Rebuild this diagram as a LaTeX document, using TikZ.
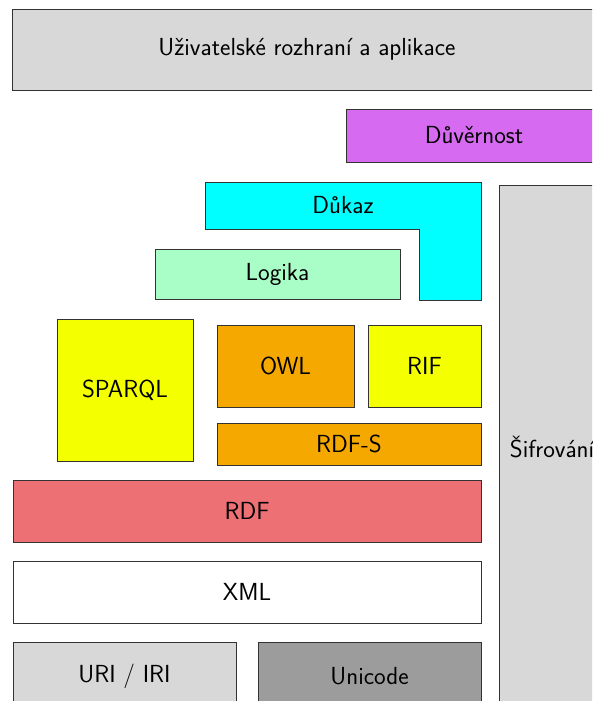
\documentclass[tikz,border=0pt]{standalone}
\definecolor{cgray}{HTML}{D8D8D8}
\definecolor{cviolet}{HTML}{D66BF2}
\definecolor{ccyan}{HTML}{00FFFF}
\definecolor{cgreen}{HTML}{A9FDC6}
\definecolor{cyellow}{HTML}{F4FF00}
\definecolor{corange}{HTML}{F5A800}
\definecolor{cred}{HTML}{EC7074}
\definecolor{cdark}{HTML}{9C9C9C}
\definecolor{cline}{HTML}{333333}
\tikzset{
  layer/.style={draw=cline, line width=0.9pt, inner sep=0pt, rectangle,
    font=\sffamily\fontsize{24.7}{29}\selectfont, text=black},
  lbl/.style={inner sep=0pt, font=\sffamily\fontsize{24.7}{29}\selectfont, text=black}
}
\begin{document}
\begin{tikzpicture}[x=1pt,y=-1pt]
\useasboundingbox (0,0) rectangle (592,701);
\clip (0,0) rectangle (592,701);
\node[layer, fill=cgray, minimum width=590pt, minimum height=81pt] (ui) at (307,49.5) {Uživatelské rozhraní a aplikace};
\node[layer, fill=cviolet, minimum width=256pt, minimum height=53pt] (trust) at (474,135.5) {Důvěrnost};
\node[layer, fill=cgray, minimum width=106pt, minimum height=524pt] (crypto) at (552,447) {Šifrování};
\draw[draw=cline, line width=0.9pt, fill=ccyan] (205,182) -- (481,182) -- (481,300) -- (419,300) -- (419,229) -- (205,229) -- cycle;
\node[lbl] (proof) at (343,205.5) {Důkaz};
\node[layer, fill=cgreen, minimum width=245pt, minimum height=50pt] (logic) at (277.5,274) {Logika};
\node[layer, fill=cyellow, minimum width=136pt, minimum height=142pt] (sparql) at (125,390) {SPARQL};
\node[layer, fill=corange, minimum width=137pt, minimum height=82pt] (owl) at (285.5,366) {OWL};
\node[layer, fill=cyellow, minimum width=113pt, minimum height=82pt] (rif) at (424.5,366) {RIF};
\node[layer, fill=corange, minimum width=264pt, minimum height=42pt] (rdfs) at (349,444) {RDF-S};
\node[layer, fill=cred, minimum width=468pt, minimum height=62pt] (rdf) at (247,511) {RDF};
\node[layer, fill=white, minimum width=468pt, minimum height=62pt] (xml) at (247,592) {XML};
\node[layer, fill=cgray, minimum width=223pt, minimum height=68pt] (uri) at (124.5,676) {URI / IRI};
\node[layer, fill=cdark, minimum width=223pt, minimum height=68pt] (uni) at (369.5,676) {Unicode};
\end{tikzpicture}
\end{document}
